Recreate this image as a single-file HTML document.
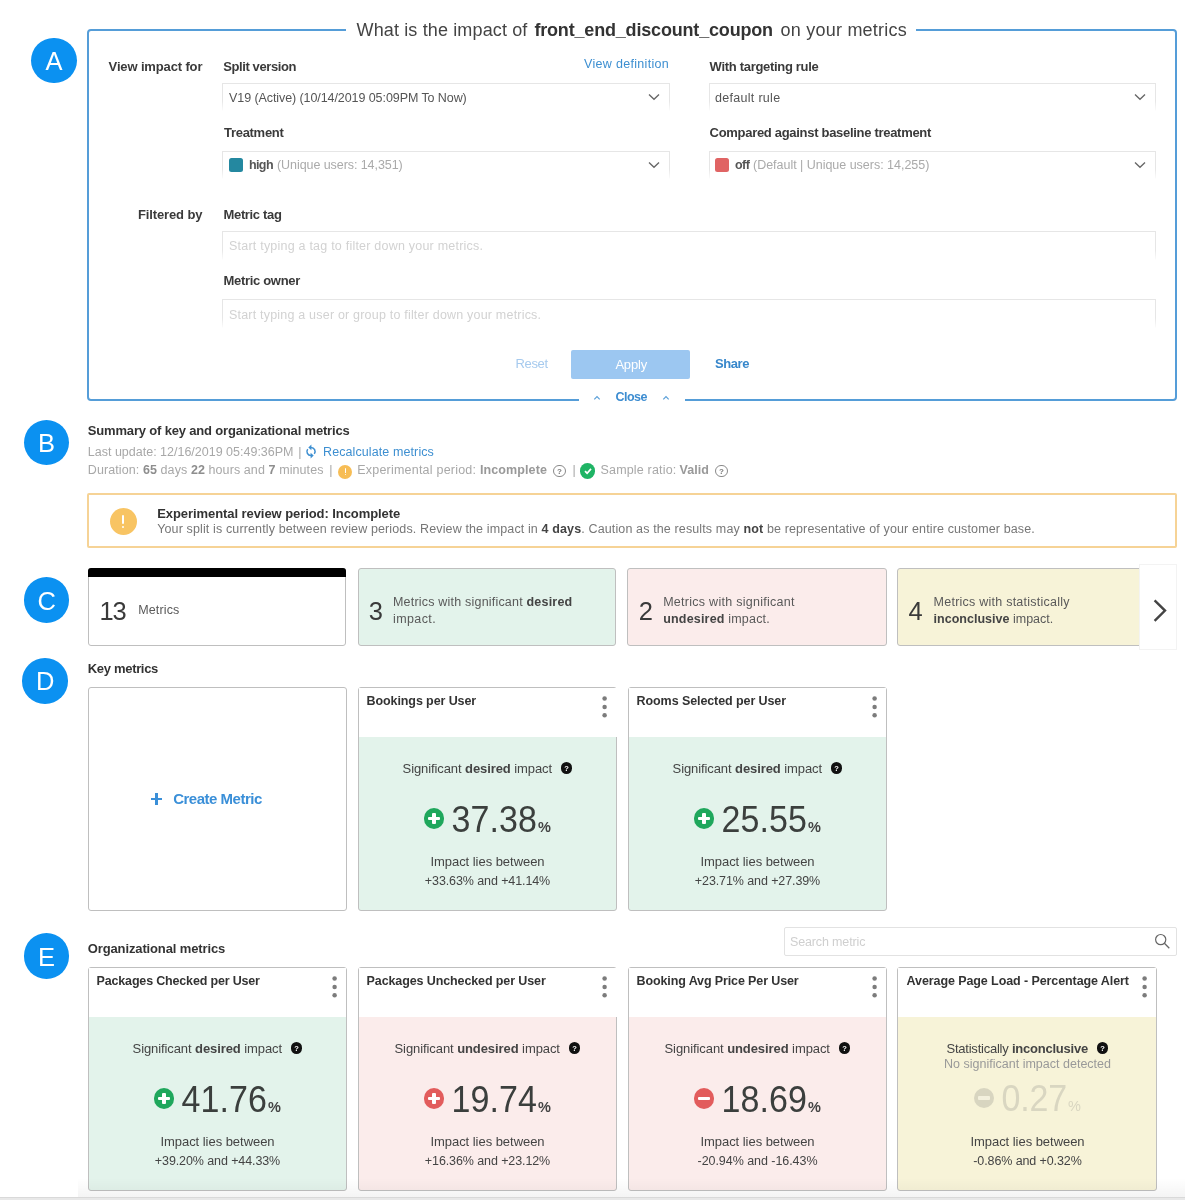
<!DOCTYPE html>
<html lang="en"><head><meta charset="utf-8"><title>Metrics impact</title>
<style>
html,body{margin:0;padding:0;background:#fff;}
body{width:1185px;height:1200px;position:relative;overflow:hidden;font-family:"Liberation Sans", sans-serif;}
div,span,svg{position:absolute;box-sizing:border-box;}
.t{white-space:pre;line-height:1;}
.t b{position:static;font-weight:700;color:#444;}
</style></head><body>
<nav aria-label="Section markers">
<div style="left:31.2px;top:37.8px;width:45.6px;height:45.6px;border-radius:50%;background:#0b91f1;"></div>
<span class="t" style="font-size:25.5px;color:#fff;top:49px;left:-146px;width:400px;text-align:center;">A</span>
<div style="left:23.7px;top:419.6px;width:45.6px;height:45.6px;border-radius:50%;background:#0b91f1;"></div>
<span class="t" style="font-size:25.5px;color:#fff;top:431px;left:-153.5px;width:400px;text-align:center;">B</span>
<div style="left:23.8px;top:577.2px;width:45.6px;height:45.6px;border-radius:50%;background:#0b91f1;"></div>
<span class="t" style="font-size:25.5px;color:#fff;top:589px;left:-153.4px;width:400px;text-align:center;">C</span>
<div style="left:22.4px;top:658.0px;width:45.6px;height:45.6px;border-radius:50%;background:#0b91f1;"></div>
<span class="t" style="font-size:25.5px;color:#fff;top:669px;left:-154.8px;width:400px;text-align:center;">D</span>
<div style="left:23.8px;top:933.2px;width:45.6px;height:45.6px;border-radius:50%;background:#0b91f1;"></div>
<span class="t" style="font-size:25.5px;color:#fff;top:945px;left:-153.4px;width:400px;text-align:center;">E</span>
</nav>
<section aria-label="Impact filters">
<div style="left:87px;top:29px;width:1090px;height:372px;border:2px solid #559dd8;border-radius:4px;"></div>
<div style="left:346px;top:26px;width:570px;height:8px;background:#fff;"></div>
<div style="left:579px;top:396px;width:105.5px;height:8px;background:#fff;"></div>
<span class="t" style="font-size:18px;color:#444;top:21px;letter-spacing:0.14px;left:356.5px;">What is the impact of</span>
<span class="t" style="font-size:18px;color:#333;top:21px;font-weight:700;letter-spacing:-0.18px;left:534.4px;">front_end_discount_coupon</span>
<span class="t" style="font-size:18px;color:#444;top:21px;letter-spacing:0.23px;left:780.5px;">on your metrics</span>
<span class="t" style="font-size:13px;color:#3a3a3a;top:60px;font-weight:700;letter-spacing:-0.14px;left:108.6px;">View impact for</span>
<span class="t" style="font-size:13px;color:#3a3a3a;top:60px;font-weight:700;letter-spacing:-0.41px;left:223.3px;">Split version</span>
<span class="t" style="font-size:12.5px;color:#3d8fd1;top:58px;letter-spacing:0.31px;left:584px;">View definition</span>
<span class="t" style="font-size:13px;color:#3a3a3a;top:60px;font-weight:700;letter-spacing:-0.31px;left:709.6px;">With targeting rule</span>
<span class="t" style="font-size:13px;color:#3a3a3a;top:126px;font-weight:700;letter-spacing:-0.29px;left:224px;">Treatment</span>
<span class="t" style="font-size:13px;color:#3a3a3a;top:126px;font-weight:700;letter-spacing:-0.3px;left:709.6px;">Compared against baseline treatment</span>
<span class="t" style="font-size:13px;color:#3a3a3a;top:208px;font-weight:700;letter-spacing:-0.13px;left:138px;">Filtered by</span>
<span class="t" style="font-size:13px;color:#3a3a3a;top:208px;font-weight:700;letter-spacing:-0.34px;left:223.5px;">Metric tag</span>
<span class="t" style="font-size:13px;color:#3a3a3a;top:274px;font-weight:700;letter-spacing:-0.31px;left:223.5px;">Metric owner</span>
<div style="left:222px;top:83px;width:448px;height:28px;border:1px solid #e6e6e6;border-bottom-color:transparent;background:linear-gradient(#fff,#fff) padding-box;"></div>
<div style="left:221px;top:101px;width:450px;height:11px;background:linear-gradient(rgba(255,255,255,0),#fff);"></div>
<svg style="left:648px;top:93.3px" width="12" height="8" viewBox="0 0 12 8"><path d="M1 1.5 L6 6.3 L11 1.5" fill="none" stroke="#666" stroke-width="1.3"/></svg>
<div style="left:709px;top:83px;width:447px;height:28px;border:1px solid #e6e6e6;border-bottom-color:transparent;background:linear-gradient(#fff,#fff) padding-box;"></div>
<div style="left:708px;top:101px;width:449px;height:11px;background:linear-gradient(rgba(255,255,255,0),#fff);"></div>
<svg style="left:1134px;top:93.3px" width="12" height="8" viewBox="0 0 12 8"><path d="M1 1.5 L6 6.3 L11 1.5" fill="none" stroke="#666" stroke-width="1.3"/></svg>
<div style="left:222px;top:151px;width:448px;height:28px;border:1px solid #e6e6e6;border-bottom-color:transparent;background:linear-gradient(#fff,#fff) padding-box;"></div>
<div style="left:221px;top:169px;width:450px;height:11px;background:linear-gradient(rgba(255,255,255,0),#fff);"></div>
<svg style="left:648px;top:160.8px" width="12" height="8" viewBox="0 0 12 8"><path d="M1 1.5 L6 6.3 L11 1.5" fill="none" stroke="#666" stroke-width="1.3"/></svg>
<div style="left:709px;top:151px;width:447px;height:28px;border:1px solid #e6e6e6;border-bottom-color:transparent;background:linear-gradient(#fff,#fff) padding-box;"></div>
<div style="left:708px;top:169px;width:449px;height:11px;background:linear-gradient(rgba(255,255,255,0),#fff);"></div>
<svg style="left:1134px;top:160.8px" width="12" height="8" viewBox="0 0 12 8"><path d="M1 1.5 L6 6.3 L11 1.5" fill="none" stroke="#666" stroke-width="1.3"/></svg>
<div style="left:222px;top:231px;width:934px;height:29px;border:1px solid #e6e6e6;border-bottom-color:transparent;background:linear-gradient(#fff,#fff) padding-box;"></div>
<div style="left:221px;top:250px;width:936px;height:11px;background:linear-gradient(rgba(255,255,255,0),#fff);"></div>
<div style="left:222px;top:299px;width:934px;height:29px;border:1px solid #e6e6e6;border-bottom-color:transparent;background:linear-gradient(#fff,#fff) padding-box;"></div>
<div style="left:221px;top:318px;width:936px;height:11px;background:linear-gradient(rgba(255,255,255,0),#fff);"></div>
<span class="t" style="font-size:12.5px;color:#555;top:92px;letter-spacing:-0.08px;left:229px;">V19 (Active) (10/14/2019 05:09PM To Now)</span>
<span class="t" style="font-size:12.5px;color:#555;top:92px;letter-spacing:0.3px;left:715px;">default rule</span>
<div style="left:228.6px;top:157.5px;width:14.4px;height:14.4px;background:#2488a0;border-radius:2.5px;"></div>
<span class="t" style="font-size:12.5px;color:#555;top:159px;font-weight:700;letter-spacing:-0.57px;left:248.9px;">high</span>
<span class="t" style="font-size:12.5px;color:#aaa;top:159px;letter-spacing:-0.07px;left:277px;">(Unique users: 14,351)</span>
<div style="left:714.6px;top:157.5px;width:14.4px;height:14.4px;background:#e06464;border-radius:2.5px;"></div>
<span class="t" style="font-size:12.5px;color:#555;top:159px;font-weight:700;letter-spacing:-0.42px;left:734.9px;">off</span>
<span class="t" style="font-size:12.5px;color:#aaa;top:159px;letter-spacing:-0.02px;left:753px;">(Default | Unique users: 14,255)</span>
<span class="t" style="font-size:12.5px;color:#d2d2d2;top:240px;letter-spacing:0.22px;left:229px;">Start typing a tag to filter down your metrics.</span>
<span class="t" style="font-size:12.5px;color:#d2d2d2;top:309px;letter-spacing:0.2px;left:229px;">Start typing a user or group to filter down your metrics.</span>
<span class="t" style="font-size:13px;color:#a6caee;top:357px;letter-spacing:-0.31px;left:515.4px;">Reset</span>
<div style="left:571px;top:350px;width:118.6px;height:29.4px;background:#9cc7f1;border-radius:2px;"></div>
<span class="t" style="font-size:13px;color:#fff;top:358px;letter-spacing:-0.19px;left:615.4px;">Apply</span>
<span class="t" style="font-size:13px;color:#3787cb;top:357px;font-weight:700;letter-spacing:-0.43px;left:715px;">Share</span>
<span class="t" style="font-size:12.5px;color:#3d8dd1;top:391px;font-weight:700;letter-spacing:-0.49px;left:615.4px;">Close</span>
<svg style="left:592.5px;top:395px" width="8" height="6" viewBox="0 0 8 6"><path d="M1.3 4.3 L4 1.6 L6.7 4.3" fill="none" stroke="#5a9fd8" stroke-width="1.2"/></svg>
<svg style="left:662px;top:395px" width="8" height="6" viewBox="0 0 8 6"><path d="M1.3 4.3 L4 1.6 L6.7 4.3" fill="none" stroke="#5a9fd8" stroke-width="1.2"/></svg>
</section>
<section aria-label="Summary">
<span class="t" style="font-size:13px;color:#333;top:424px;font-weight:700;letter-spacing:-0.17px;left:87.8px;">Summary of key and organizational metrics</span>
<span class="t" style="font-size:12.5px;color:#a8a8a8;top:446px;left:87.8px;">Last update: 12/16/2019 05:49:36PM</span>
<span class="t" style="font-size:12.5px;color:#a8a8a8;top:446px;left:298.2px;">|</span>
<svg style="left:305.3px;top:444px" width="12" height="15" viewBox="0 0 12 15"><g fill="none" stroke="#3d8fd1" stroke-width="1.5"><path d="M6 3.4 A4.1 4.1 0 0 1 9.3 9.9"/><path d="M6 11.6 A4.1 4.1 0 0 1 2.7 5.1"/></g><path d="M6.4 0.6 L6.4 6.2 L3.3 3.4 Z" fill="#3d8fd1"/><path d="M5.6 14.4 L5.6 8.8 L8.7 11.6 Z" fill="#3d8fd1"/></svg>
<span class="t" style="font-size:12.5px;color:#3d8fd1;top:446px;letter-spacing:0.1px;left:323px;">Recalculate metrics</span>
<span class="t" style="font-size:12.5px;color:#a8a8a8;top:464px;letter-spacing:0.09px;left:87.8px;">Duration: <b style="color:#8e8e8e">65</b> days <b style="color:#8e8e8e">22</b> hours and <b style="color:#8e8e8e">7</b> minutes</span>
<span class="t" style="font-size:12.5px;color:#a8a8a8;top:464px;left:329.2px;">|</span>
<div style="left:338.2px;top:464.5px;width:14px;height:14px;border-radius:50%;background:#f7bd55;"></div>
<div style="left:344.5px;top:467.5px;width:1.6px;height:5px;background:#fff;border-radius:1px"></div><div style="left:344.5px;top:473.7px;width:1.6px;height:1.8px;background:#fff;border-radius:1px"></div>
<span class="t" style="font-size:12.5px;color:#a8a8a8;top:464px;letter-spacing:0.22px;left:357.2px;">Experimental period:</span>
<span class="t" style="font-size:12.5px;color:#999;top:464px;font-weight:700;letter-spacing:0.1px;left:480px;">Incomplete</span>
<div style="left:553.2px;top:464.5px;width:12.6px;height:12.6px;border-radius:50%;border:1.2px solid #8a8a8a;"></div>
<span class="t" style="font-size:8px;color:#777;top:468px;font-weight:700;left:359.5px;width:400px;text-align:center;">?</span>
<span class="t" style="font-size:12.5px;color:#a8a8a8;top:464px;left:572.4px;">|</span>
<div style="left:580px;top:463.2px;width:15.4px;height:15.4px;border-radius:50%;background:#1fb465;"></div>
<svg style="left:583px;top:466.2px" width="10" height="10" viewBox="0 0 10 10"><path d="M2 5.2 L4.1 7.2 L8 2.9" fill="none" stroke="#fff" stroke-width="1.7"/></svg>
<span class="t" style="font-size:12.5px;color:#a8a8a8;top:464px;letter-spacing:0.18px;left:600.5px;">Sample ratio:</span>
<span class="t" style="font-size:12.5px;color:#999;top:464px;font-weight:700;letter-spacing:0.06px;left:679.5px;">Valid</span>
<div style="left:715.2px;top:464.5px;width:12.6px;height:12.6px;border-radius:50%;border:1.2px solid #8a8a8a;"></div>
<span class="t" style="font-size:8px;color:#777;top:468px;font-weight:700;left:521.5px;width:400px;text-align:center;">?</span>
<div style="left:87px;top:493px;width:1090px;height:55px;border:2px solid #f6d396;border-radius:2px;"></div>
<div style="left:109.6px;top:508px;width:27.4px;height:27.4px;border-radius:50%;background:#f8c463;"></div>
<div style="left:122.1px;top:514.5px;width:2.4px;height:9px;background:#fff;border-radius:1.2px"></div><div style="left:122.1px;top:525.6px;width:2.4px;height:2.6px;background:#fff;border-radius:1.2px"></div>
<span class="t" style="font-size:13px;color:#333;top:507px;font-weight:700;letter-spacing:-0.07px;left:157.2px;">Experimental review period: Incomplete</span>
<span class="t" style="font-size:12.5px;color:#777;top:523px;letter-spacing:0.13px;left:157.2px;">Your split is currently between review periods. Review the impact in <b style="color:#444">4 days</b>. Caution as the results may <b style="color:#444">not</b> be representative of your entire customer base.</span>
</section>
<section aria-label="Metric counts">
<div style="left:88px;top:568px;width:258px;height:78px;border:1px solid #bfbfbf;border-radius:3px;background:#fff;"></div>
<div style="left:88px;top:568px;width:258px;height:9.3px;background:#000;border-radius:3px 3px 0 0;"></div>
<div style="left:358px;top:568px;width:258px;height:78px;border:1px solid #bfbfbf;border-radius:3px;background:#e3f3eb;"></div>
<div style="left:627px;top:568px;width:260px;height:78px;border:1px solid #bfbfbf;border-radius:3px;background:#fbeceb;"></div>
<div style="left:897px;top:568px;width:260px;height:78px;border:1px solid #bfbfbf;border-radius:3px;background:#f7f3d8;"></div>
<div style="left:1139px;top:564px;width:38px;height:86px;background:#fff;border:1px solid #f3f3f3;"></div>
<svg style="left:1151px;top:597px" width="18" height="27" viewBox="0 0 18 27"><path d="M3.6 3.4 L14 13.6 L3.6 23.8" fill="none" stroke="#444" stroke-width="2.4"/></svg>
<span class="t" style="font-size:25.5px;color:#3a3a3a;top:599px;letter-spacing:-1.2px;left:99.5px;">13</span>
<span class="t" style="font-size:12.5px;color:#595959;top:604px;letter-spacing:0.15px;left:138.2px;">Metrics</span>
<span class="t" style="font-size:25.5px;color:#3a3a3a;top:599px;left:368.8px;">3</span>
<span class="t" style="font-size:12.5px;color:#595959;top:596px;letter-spacing:0.2px;left:393px;">Metrics with significant <b>desired</b></span>
<span class="t" style="font-size:12.5px;color:#595959;top:613px;letter-spacing:0.39px;left:393px;">impact.</span>
<span class="t" style="font-size:25.5px;color:#3a3a3a;top:599px;left:638.8px;">2</span>
<span class="t" style="font-size:12.5px;color:#595959;top:596px;letter-spacing:0.27px;left:663.2px;">Metrics with significant</span>
<span class="t" style="font-size:12.5px;color:#595959;top:613px;letter-spacing:0.19px;left:663.2px;"><b>undesired</b> impact.</span>
<span class="t" style="font-size:25.5px;color:#3a3a3a;top:599px;left:908.6px;">4</span>
<span class="t" style="font-size:12.5px;color:#595959;top:596px;letter-spacing:0.24px;left:933.6px;">Metrics with statistically</span>
<span class="t" style="font-size:12.5px;color:#595959;top:613px;letter-spacing:0.01px;left:933.6px;"><b>inconclusive</b> impact.</span>
</section>
<section aria-label="Key metrics">
<span class="t" style="font-size:13px;color:#333;top:662px;font-weight:700;letter-spacing:-0.32px;left:87.8px;">Key metrics</span>
<div style="left:88px;top:687px;width:259px;height:224px;border:1px solid #bfbfbf;border-radius:3px;background:#fff;"></div>
<div style="left:150.9px;top:797.7px;width:11.4px;height:2.7px;background:#3a8fd8"></div><div style="left:155.25px;top:793.4px;width:2.7px;height:11.4px;background:#3a8fd8"></div>
<span class="t" style="font-size:15px;color:#3a8fd8;top:791px;font-weight:700;letter-spacing:-0.5px;left:173.2px;">Create Metric</span>
<div style="left:358px;top:687px;width:259px;height:224px;border:1px solid #bfbfbf;border-radius:3px;background:#e3f3eb;"></div>
<div style="left:359px;top:688px;width:259px;height:49px;background:#fff;"></div>
<span class="t" style="font-size:12.5px;color:#333;top:695px;font-weight:700;letter-spacing:-0.1px;left:366.6px;">Bookings per User</span>
<svg style="left:601px;top:695px" width="8" height="24" viewBox="0 0 8 24"><g fill="#7c7c7c"><circle cx="3.6" cy="3.5" r="2.25"/><circle cx="3.6" cy="11.9" r="2.25"/><circle cx="3.6" cy="20.2" r="2.25"/></g></svg>
<span class="t" style="font-size:13px;color:#444;top:762px;letter-spacing:-0.09px;left:402.55px;">Significant <b>desired</b> impact</span>
<div style="left:560.75px;top:762.2px;width:11.6px;height:11.6px;border-radius:50%;background:#111;"></div>
<span class="t" style="font-size:7.5px;color:#fff;top:765px;font-weight:700;left:366.55px;width:400px;text-align:center;">?</span>
<div style="left:423.55px;top:808.1px;width:20.8px;height:20.8px;border-radius:50%;background:#1fa75c;"></div>
<div style="left:428.25px;top:816.9px;width:11.4px;height:3.2px;background:#fff;border-radius:1px"></div>
<div style="left:432.35px;top:812.8px;width:3.2px;height:11.4px;background:#fff;border-radius:1px"></div>
<span class="t" style="font-size:34px;color:#3b3f3d;top:803px;letter-spacing:0.1px;left:451.45px;transform:scaleY(1.08);transform-origin:0 29px;">37.38</span>
<span class="t" style="font-size:14.5px;color:#444;top:820px;font-weight:700;left:538.05px;">%</span>
<span class="t" style="font-size:13px;color:#444;top:855px;letter-spacing:-0.04px;left:287.5px;width:400px;text-align:center;">Impact lies between</span>
<span class="t" style="font-size:12.5px;color:#444;top:875px;letter-spacing:-0.1px;left:287.5px;width:400px;text-align:center;">+33.63% and +41.14%</span>
<div style="left:628px;top:687px;width:259px;height:224px;border:1px solid #bfbfbf;border-radius:3px;background:#e3f3eb;"></div>
<div style="left:629px;top:688px;width:257px;height:49px;background:#fff;"></div>
<span class="t" style="font-size:12.5px;color:#333;top:695px;font-weight:700;letter-spacing:-0.09px;left:636.6px;">Rooms Selected per User</span>
<svg style="left:871px;top:695px" width="8" height="24" viewBox="0 0 8 24"><g fill="#7c7c7c"><circle cx="3.6" cy="3.5" r="2.25"/><circle cx="3.6" cy="11.9" r="2.25"/><circle cx="3.6" cy="20.2" r="2.25"/></g></svg>
<span class="t" style="font-size:13px;color:#444;top:762px;letter-spacing:-0.09px;left:672.55px;">Significant <b>desired</b> impact</span>
<div style="left:830.75px;top:762.2px;width:11.6px;height:11.6px;border-radius:50%;background:#111;"></div>
<span class="t" style="font-size:7.5px;color:#fff;top:765px;font-weight:700;left:636.55px;width:400px;text-align:center;">?</span>
<div style="left:693.55px;top:808.1px;width:20.8px;height:20.8px;border-radius:50%;background:#1fa75c;"></div>
<div style="left:698.25px;top:816.9px;width:11.4px;height:3.2px;background:#fff;border-radius:1px"></div>
<div style="left:702.35px;top:812.8px;width:3.2px;height:11.4px;background:#fff;border-radius:1px"></div>
<span class="t" style="font-size:34px;color:#3b3f3d;top:803px;letter-spacing:0.1px;left:721.45px;transform:scaleY(1.08);transform-origin:0 29px;">25.55</span>
<span class="t" style="font-size:14.5px;color:#444;top:820px;font-weight:700;left:808.05px;">%</span>
<span class="t" style="font-size:13px;color:#444;top:855px;letter-spacing:-0.04px;left:557.5px;width:400px;text-align:center;">Impact lies between</span>
<span class="t" style="font-size:12.5px;color:#444;top:875px;letter-spacing:-0.1px;left:557.5px;width:400px;text-align:center;">+23.71% and +27.39%</span>
</section>
<section aria-label="Organizational metrics">
<span class="t" style="font-size:13px;color:#333;top:942px;font-weight:700;letter-spacing:-0.13px;left:87.8px;">Organizational metrics</span>
<div style="left:784px;top:927px;width:393px;height:29px;border:1px solid #e2e2e2;border-radius:2px;background:#fff;"></div>
<span class="t" style="font-size:12.5px;color:#cfcfcf;top:936px;letter-spacing:-0.14px;left:790px;">Search metric</span>
<svg style="left:1153.5px;top:933px" width="17" height="17" viewBox="0 0 17 17"><circle cx="6.7" cy="6.6" r="5.1" fill="none" stroke="#666" stroke-width="1.2"/><path d="M10.4 10.3 L15.3 15.2" stroke="#666" stroke-width="1.3"/></svg>
<div style="left:88px;top:967px;width:259px;height:224px;border:1px solid #bfbfbf;border-radius:3px;background:#e3f3eb;"></div>
<div style="left:89px;top:968px;width:257px;height:49px;background:#fff;"></div>
<span class="t" style="font-size:12.5px;color:#333;top:975px;font-weight:700;letter-spacing:-0.17px;left:96.6px;">Packages Checked per User</span>
<svg style="left:331px;top:975px" width="8" height="24" viewBox="0 0 8 24"><g fill="#7c7c7c"><circle cx="3.6" cy="3.5" r="2.25"/><circle cx="3.6" cy="11.9" r="2.25"/><circle cx="3.6" cy="20.2" r="2.25"/></g></svg>
<span class="t" style="font-size:13px;color:#444;top:1042px;letter-spacing:-0.09px;left:132.55px;">Significant <b>desired</b> impact</span>
<div style="left:290.75px;top:1042.2px;width:11.6px;height:11.6px;border-radius:50%;background:#111;"></div>
<span class="t" style="font-size:7.5px;color:#fff;top:1045px;font-weight:700;left:96.55px;width:400px;text-align:center;">?</span>
<div style="left:153.55px;top:1088.1px;width:20.8px;height:20.8px;border-radius:50%;background:#1fa75c;"></div>
<div style="left:158.25px;top:1096.9px;width:11.4px;height:3.2px;background:#fff;border-radius:1px"></div>
<div style="left:162.35px;top:1092.8px;width:3.2px;height:11.4px;background:#fff;border-radius:1px"></div>
<span class="t" style="font-size:34px;color:#3b3f3d;top:1083px;letter-spacing:0.1px;left:181.45px;transform:scaleY(1.08);transform-origin:0 29px;">41.76</span>
<span class="t" style="font-size:14.5px;color:#444;top:1100px;font-weight:700;left:268.05px;">%</span>
<span class="t" style="font-size:13px;color:#444;top:1135px;letter-spacing:-0.04px;left:17.5px;width:400px;text-align:center;">Impact lies between</span>
<span class="t" style="font-size:12.5px;color:#444;top:1155px;letter-spacing:-0.1px;left:17.5px;width:400px;text-align:center;">+39.20% and +44.33%</span>
<div style="left:358px;top:967px;width:259px;height:224px;border:1px solid #bfbfbf;border-radius:3px;background:#fbeceb;"></div>
<div style="left:359px;top:968px;width:259px;height:49px;background:#fff;"></div>
<span class="t" style="font-size:12.5px;color:#333;top:975px;font-weight:700;letter-spacing:-0.11px;left:366.6px;">Packages Unchecked per User</span>
<svg style="left:601px;top:975px" width="8" height="24" viewBox="0 0 8 24"><g fill="#7c7c7c"><circle cx="3.6" cy="3.5" r="2.25"/><circle cx="3.6" cy="11.9" r="2.25"/><circle cx="3.6" cy="20.2" r="2.25"/></g></svg>
<span class="t" style="font-size:13px;color:#444;top:1042px;letter-spacing:-0.08px;left:394.5px;">Significant <b>undesired</b> impact</span>
<div style="left:568.8px;top:1042.2px;width:11.6px;height:11.6px;border-radius:50%;background:#111;"></div>
<span class="t" style="font-size:7.5px;color:#fff;top:1045px;font-weight:700;left:374.6px;width:400px;text-align:center;">?</span>
<div style="left:423.55px;top:1088.1px;width:20.8px;height:20.8px;border-radius:50%;background:#e25c5c;"></div>
<div style="left:428.25px;top:1096.9px;width:11.4px;height:3.2px;background:#fff;border-radius:1px"></div>
<div style="left:432.35px;top:1092.8px;width:3.2px;height:11.4px;background:#fff;border-radius:1px"></div>
<span class="t" style="font-size:34px;color:#3b3f3d;top:1083px;letter-spacing:0.1px;left:451.45px;transform:scaleY(1.08);transform-origin:0 29px;">19.74</span>
<span class="t" style="font-size:14.5px;color:#444;top:1100px;font-weight:700;left:538.05px;">%</span>
<span class="t" style="font-size:13px;color:#444;top:1135px;letter-spacing:-0.04px;left:287.5px;width:400px;text-align:center;">Impact lies between</span>
<span class="t" style="font-size:12.5px;color:#444;top:1155px;letter-spacing:-0.1px;left:287.5px;width:400px;text-align:center;">+16.36% and +23.12%</span>
<div style="left:628px;top:967px;width:259px;height:224px;border:1px solid #bfbfbf;border-radius:3px;background:#fbeceb;"></div>
<div style="left:629px;top:968px;width:257px;height:49px;background:#fff;"></div>
<span class="t" style="font-size:12.5px;color:#333;top:975px;font-weight:700;letter-spacing:-0.12px;left:636.6px;">Booking Avg Price Per User</span>
<svg style="left:871px;top:975px" width="8" height="24" viewBox="0 0 8 24"><g fill="#7c7c7c"><circle cx="3.6" cy="3.5" r="2.25"/><circle cx="3.6" cy="11.9" r="2.25"/><circle cx="3.6" cy="20.2" r="2.25"/></g></svg>
<span class="t" style="font-size:13px;color:#444;top:1042px;letter-spacing:-0.08px;left:664.5px;">Significant <b>undesired</b> impact</span>
<div style="left:838.8px;top:1042.2px;width:11.6px;height:11.6px;border-radius:50%;background:#111;"></div>
<span class="t" style="font-size:7.5px;color:#fff;top:1045px;font-weight:700;left:644.6px;width:400px;text-align:center;">?</span>
<div style="left:693.55px;top:1088.1px;width:20.8px;height:20.8px;border-radius:50%;background:#e25c5c;"></div>
<div style="left:698.25px;top:1096.9px;width:11.4px;height:3.2px;background:#fff;border-radius:1px"></div>
<span class="t" style="font-size:34px;color:#3b3f3d;top:1083px;letter-spacing:0.1px;left:721.45px;transform:scaleY(1.08);transform-origin:0 29px;">18.69</span>
<span class="t" style="font-size:14.5px;color:#444;top:1100px;font-weight:700;left:808.05px;">%</span>
<span class="t" style="font-size:13px;color:#444;top:1135px;letter-spacing:-0.04px;left:557.5px;width:400px;text-align:center;">Impact lies between</span>
<span class="t" style="font-size:12.5px;color:#444;top:1155px;letter-spacing:-0.05px;left:557.5px;width:400px;text-align:center;">-20.94% and -16.43%</span>
<div style="left:897px;top:967px;width:260px;height:224px;border:1px solid #bfbfbf;border-radius:3px;background:#f7f3d8;"></div>
<div style="left:898px;top:968px;width:258px;height:49px;background:#fff;"></div>
<span class="t" style="font-size:12.5px;color:#333;top:975px;font-weight:700;letter-spacing:-0.09px;left:906.6px;">Average Page Load - Percentage Alert</span>
<svg style="left:1141px;top:975px" width="8" height="24" viewBox="0 0 8 24"><g fill="#7c7c7c"><circle cx="3.6" cy="3.5" r="2.25"/><circle cx="3.6" cy="11.9" r="2.25"/><circle cx="3.6" cy="20.2" r="2.25"/></g></svg>
<span class="t" style="font-size:13px;color:#444;top:1042px;letter-spacing:-0.23px;left:946.5px;">Statistically <b>inconclusive</b></span>
<div style="left:1096.8px;top:1042.4px;width:11.6px;height:11.6px;border-radius:50%;background:#111;"></div>
<span class="t" style="font-size:7.5px;color:#fff;top:1045px;font-weight:700;left:902.6px;width:400px;text-align:center;">?</span>
<span class="t" style="font-size:12.5px;color:#999;top:1058px;letter-spacing:0.01px;left:827.5px;width:400px;text-align:center;">No significant impact detected</span>
<div style="left:973.7px;top:1087.6px;width:20.8px;height:20.8px;border-radius:50%;background:#d8d5c0;"></div>
<div style="left:978.4px;top:1096.4px;width:11.4px;height:3.2px;background:#f3f0dd;border-radius:1px"></div>
<span class="t" style="font-size:34px;color:#d9d6c1;top:1082px;letter-spacing:-0.22px;left:1001.6px;transform:scaleY(1.08);transform-origin:0 29px;">0.27</span>
<span class="t" style="font-size:14.5px;color:#d9d6c1;top:1099px;left:1067.9px;">%</span>
<span class="t" style="font-size:13px;color:#444;top:1135px;letter-spacing:-0.04px;left:827.5px;width:400px;text-align:center;">Impact lies between</span>
<span class="t" style="font-size:12.5px;color:#444;top:1155px;letter-spacing:-0.1px;left:827.5px;width:400px;text-align:center;">-0.86% and +0.32%</span>
</section>
<div style="left:78px;top:1178px;width:1107px;height:19px;background:linear-gradient(rgba(0,0,0,0),rgba(0,0,0,0.045));"></div>
<div style="left:0px;top:1197px;width:1185px;height:3px;background:#e8e8e8;border-top:1px solid #d9d9d9;"></div>
</body></html>
